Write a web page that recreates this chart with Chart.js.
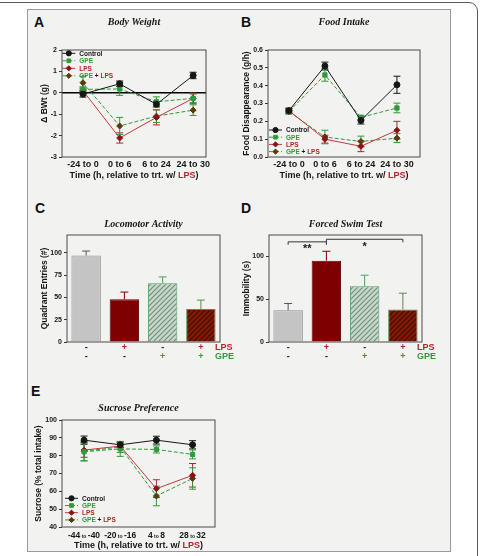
<!DOCTYPE html>
<html>
<head>
<meta charset="utf-8">
<script src="https://cdn.jsdelivr.net/npm/chart.js@4.4.1/dist/chart.umd.min.js"></script>
<style>
  body { margin: 0; width: 480px; height: 556px; overflow: hidden; position: relative; background: #fff; }
  #outer { position: absolute; left: -12px; top: 2px; width: 488px; height: 600px; border: 1.5px solid #5a5a5a; border-radius: 9px; }
  #panel { position: absolute; left: 27px; top: 9px; width: 422px; height: 541px; background: #f2f2f0; border: 1px solid #9a9a9a; }
  .letter { position: absolute; font: bold 14px "Liberation Sans", Arial, sans-serif; line-height: 1; color: #111; }
  canvas { position: absolute; }
</style>
</head>
<body>
<div id="outer"></div>
<div id="panel"></div>
<div class="letter" style="left:34px;top:15px">A</div>
<div class="letter" style="left:241px;top:15px">B</div>
<div class="letter" style="left:35px;top:201px">C</div>
<div class="letter" style="left:241px;top:201px">D</div>
<div class="letter" style="left:31px;top:384px">E</div>
<canvas id="bw" width="216" height="180" style="left:27px;top:10px"></canvas>
<canvas id="food" width="200" height="180" style="left:240px;top:10px"></canvas>
<canvas id="loco" width="227" height="175" style="left:30px;top:195px"></canvas>
<canvas id="swim" width="211" height="175" style="left:240px;top:195px"></canvas>
<canvas id="sucrose" width="223" height="170" style="left:27px;top:380px"></canvas>
<script>
// ---- data ----
const timeLabels = ['-24 to 0', '0 to 6', '6 to 24', '24 to 30'];
const sucroseLabels = ['-44 to -40', '-20 to -16', '4 to 8', '28 to 32'];
const seriesNames = ['Control', 'GPE', 'LPS', 'GPE + LPS'];

// A - change in body weight (g)
const bwTicks = [-3, -2, -1, 0, 1, 2];
const bwControl = [-0.06, 0.42, -0.54, 0.81];
const bwControlErr = [0.14, 0.13, 0.12, 0.15];
const bwGpe = [0.16, 0.18, -0.42, -0.26];
const bwGpeErr = [0.12, 0.3, 0.23, 0.2];
const bwLps = [0.1, -2.11, -1.15, -0.26];
const bwLpsErr = [0.12, 0.24, 0.35, 0.25];
const bwGpeLps = [0.47, -1.55, -1.09, -0.81];
const bwGpeLpsErr = [0.3, 0.4, 0.3, 0.25];

// B - food disappearance (g/h)
const foodTicks = [0, 0.1, 0.2, 0.3, 0.4, 0.5, 0.6];
const foodControl = [0.26, 0.51, 0.205, 0.405];
const foodControlErr = [0.012, 0.022, 0.02, 0.048];
const foodGpe = [0.255, 0.46, 0.222, 0.275];
const foodGpeErr = [0.015, 0.035, 0.012, 0.027];
const foodLps = [0.26, 0.1, 0.06, 0.15];
const foodLpsErr = [0.015, 0.022, 0.03, 0.05];
const foodGpeLps = [0.255, 0.112, 0.087, 0.106];
const foodGpeLpsErr = [0.012, 0.038, 0.03, 0.025];

// C / D - bar groups
const groupNames = ['Control', 'LPS', 'GPE', 'GPE + LPS'];
const lpsSigns = ['-', '+', '-', '+'];
const gpeSigns = ['-', '-', '+', '+'];
const locoTicks = [0, 25, 50, 75, 100];
const locoValues = [97, 48, 66, 37];
const locoErr = [5, 8, 7, 10];
const swimTicks = [0, 50, 100];
const swimValues = [37, 95, 65, 38];
const swimErr = [8, 11, 13, 19];
const swimBrackets = [[0, 1, '**', 117], [1, 3, '*', 120]];

// E - sucrose preference (% total intake)
const sucroseTicks = [40, 50, 60, 70, 80, 90, 100];
const sucControl = [88.7, 86.1, 88.7, 86.1];
const sucControlErr = [2.3, 1.5, 2.2, 2.3];
const sucGpe = [82.2, 83.8, 83.5, 80.7];
const sucGpeErr = [5.2, 4.2, 2, 2.5];
const sucLps = [83.1, 85.4, 61.5, 69];
const sucLpsErr = [4, 1.8, 5, 6.6];
const sucGpeLps = [82.6, 84.8, 57.4, 67.2];
const sucGpeLpsErr = [5.4, 3, 5.5, 6];

// ---- styles ----
const FONT = '"Liberation Sans", Arial, sans-serif';
const TITLE_FONT = 'italic bold 10px "Liberation Serif", "Times New Roman", serif';
const GREEN = '#2f9a3c';
const RED = '#b1262b';
const INK = '#161616';
const nameColor = {Control: INK, GPE: GREEN, LPS: RED};
const seriesStyle = [
  {line: INK, fill: INK, point: 'circle', dash: [], err: INK},
  {line: GREEN, fill: GREEN, point: 'rect', dash: [4, 2], err: GREEN},
  {line: '#c2383c', fill: '#8c1116', point: 'rectRot', dash: [], err: RED},
  {line: GREEN, fill: '#5b3a0b', point: 'rectRot', dash: [4, 2], err: GREEN}
];
const timeTitle = [['Time (h, relative to trt. w/ ', INK], ['LPS', RED], [')', INK]];

function hatch(bg, fg) {
  const c = document.createElement('canvas');
  c.width = c.height = 5;
  const g = c.getContext('2d');
  g.fillStyle = bg;
  g.fillRect(0, 0, 5, 5);
  g.strokeStyle = fg;
  g.lineWidth = 1.2;
  g.beginPath();
  g.moveTo(0, 5); g.lineTo(5, 0);
  g.moveTo(-1, 1); g.lineTo(1, -1);
  g.moveTo(4, 6); g.lineTo(6, 4);
  g.stroke();
  return g.createPattern(c, 'repeat');
}
const barFill = ['#c4c4c4', '#7e0000', hatch('#c9d6cc', '#6d9276'), hatch('#861800', '#3b1200')];
const barBorder = ['#8e8e8e', '#5f0000', '#4ea05a', '#5b8a4c'];
const barErr = ['#555', '#7e0000', '#4ea05a', '#5b8a4c'];

// draws a row of differently coloured text pieces
function drawParts(ctx, parts, x, y, font, align) {
  let w = 0;
  parts.forEach(p => { ctx.font = p[2] || font; w += ctx.measureText(p[0]).width; });
  let cx = align === 'left' ? x : x - w / 2;
  ctx.textAlign = 'left';
  ctx.textBaseline = 'alphabetic';
  parts.forEach(p => {
    ctx.font = p[2] || font;
    ctx.fillStyle = p[1];
    ctx.fillText(p[0], cx, y);
    cx += ctx.measureText(p[0]).width;
  });
}

const extras = {
  id: 'extras',
  beforeDatasetsDraw(chart, args, o) {
    const {ctx, chartArea: a} = chart;
    const ys = chart.scales.y;
    ctx.save();
    if (o.zeroLine) {
      const y0 = ys.getPixelForValue(0);
      ctx.strokeStyle = '#000';
      ctx.lineWidth = 1.5;
      ctx.beginPath(); ctx.moveTo(a.left, y0); ctx.lineTo(a.right, y0); ctx.stroke();
    }
    // error bars
    chart.data.datasets.forEach((ds, i) => {
      if (!ds.errors) return;
      chart.getDatasetMeta(i).data.forEach((el, j) => {
        const d = ds.data[j];
        const v = typeof d === 'object' ? d.y : d;
        const e = ds.errors[j];
        const top = ys.getPixelForValue(v + e);
        const bot = ys.getPixelForValue(o.upOnly ? v : v - e);
        ctx.strokeStyle = Array.isArray(ds.errColor) ? ds.errColor[j] : ds.errColor;
        ctx.lineWidth = 1;
        ctx.beginPath();
        ctx.moveTo(el.x, top); ctx.lineTo(el.x, bot);
        ctx.moveTo(el.x - o.cap, top); ctx.lineTo(el.x + o.cap, top);
        if (!o.upOnly) { ctx.moveTo(el.x - o.cap, bot); ctx.lineTo(el.x + o.cap, bot); }
        ctx.stroke();
      });
    });
    ctx.restore();
  },
  afterDraw(chart, args, o) {
    const {ctx, chartArea: a} = chart;
    const xs = chart.scales.x, ys = chart.scales.y;
    ctx.save();
    ctx.strokeStyle = '#4a4a4a';
    ctx.lineWidth = 1;
    ctx.strokeRect(a.left, a.top, a.width, a.height);

    // panel title, centred over the plot box
    ctx.font = TITLE_FONT;
    ctx.fillStyle = INK;
    ctx.textAlign = 'center';
    ctx.textBaseline = 'middle';
    ctx.fillText(o.title, (a.left + a.right) / 2, a.top - o.titleDy);

    if (o.legend) {
      chart.data.datasets.forEach((ds, i) => {
        const yy = a.top + o.legend.y + i * o.legend.gap;
        const x0 = a.left + o.legend.x;
        ctx.strokeStyle = ds.borderColor;
        ctx.lineWidth = 1;
        ctx.setLineDash(ds.borderDash);
        ctx.beginPath(); ctx.moveTo(x0, yy); ctx.lineTo(x0 + 13, yy); ctx.stroke();
        ctx.setLineDash([]);
        ctx.fillStyle = ds.pointBackgroundColor;
        ctx.strokeStyle = ds.pointBorderColor;
        Chart.helpers.drawPoint(ctx, {pointStyle: ds.pointStyle, radius: 2.6, rotation: 0, borderWidth: 1}, x0 + 6.5, yy);
        const parts = ds.label.split(/( \+ )/).map(p => [p, nameColor[p] || INK]);
        drawParts(ctx, parts, x0 + 17, yy + 2.3, 'bold 6.5px ' + FONT, 'left');
      });
    }
    if (o.xTitle) {
      drawParts(ctx, o.xTitle, (a.left + a.right) / 2, a.bottom + 20.5, 'bold 9px ' + FONT);
    }
    if (o.splitTicks) {
      o.splitTicks.forEach((lab, i) => {
        const [p, q] = lab.split(' to ');
        drawParts(ctx, [[p, INK], [' to ', INK, 'bold 5px ' + FONT], [q, INK]],
          xs.getPixelForValue(i), a.bottom + 10.5, 'bold 8.5px ' + FONT);
      });
    }
    if (o.signs) {
      o.signs.forEach(row => {
        const yy = a.bottom + row.dy;
        ctx.font = 'bold 9px ' + FONT;
        ctx.textBaseline = 'middle';
        ctx.textAlign = 'center';
        row.signs.forEach((s, i) => {
          ctx.fillStyle = s === '+' ? row.color : INK;
          ctx.fillText(s, xs.getPixelForValue(i), yy);
        });
        ctx.textAlign = 'left';
        ctx.fillStyle = row.color;
        ctx.fillText(row.label, a.right - 5, yy);
      });
    }
    if (o.brackets) {
      o.brackets.forEach(([i0, i1, t, v]) => {
        const x0 = xs.getPixelForValue(i0), x1 = xs.getPixelForValue(i1), yy = ys.getPixelForValue(v);
        ctx.strokeStyle = '#333';
        ctx.lineWidth = 1;
        ctx.beginPath();
        ctx.moveTo(x0, yy + 3); ctx.lineTo(x0, yy); ctx.lineTo(x1, yy); ctx.lineTo(x1, yy + 3);
        ctx.stroke();
        ctx.fillStyle = INK;
        ctx.font = 'bold 11px ' + FONT;
        ctx.textAlign = 'center';
        ctx.textBaseline = 'top';
        ctx.fillText(t, (x0 + x1) / 2, yy + 2);
      });
    }
    ctx.restore();
  }
};

function yAxis(o) {
  return {
    min: o.yMin, max: o.yMax,
    afterBuildTicks: s => { s.ticks = o.ticks.map(v => ({value: v})); },
    afterFit: s => { s.width = o.yWidth; },
    grid: {drawOnChartArea: false, tickLength: 3, color: '#333'},
    border: {display: false},
    ticks: {font: {family: FONT, size: 7, weight: 'bold'}, color: INK, padding: 2, callback: o.fmt || (v => v)},
    title: {display: true, text: o.yTitle, color: INK, font: {family: FONT, size: 8.5, weight: 'bold'}, padding: {top: o.yTitlePad, bottom: 0}}
  };
}

function lineChart(id, o) {
  const datasets = o.series.map((s, i) => {
    const st = seriesStyle[i];
    return {
      label: seriesNames[i],
      data: s[0].map((v, j) => ({x: j, y: v})),
      errors: s[1],
      errColor: st.err,
      borderColor: st.line, borderWidth: 1, borderDash: st.dash,
      pointStyle: st.point, pointRadius: 3,
      pointBackgroundColor: st.fill, pointBorderColor: st.fill, pointBorderWidth: 1,
      tension: 0
    };
  });
  return new Chart(document.getElementById(id), {
    type: 'line',
    data: {datasets},
    options: {
      responsive: false, animation: false,
      layout: {padding: {top: 40, right: o.padRight}},
      plugins: {
        legend: {display: false}, tooltip: {enabled: false}, title: {display: false},
        extras: {cap: 3.5, title: o.title, titleDy: o.titleDy, zeroLine: o.zeroLine, legend: o.legend, xTitle: timeTitle, splitTicks: o.splitTicks}
      },
      scales: {
        x: {
          type: 'linear', min: o.xMin, max: o.xMax,
          afterBuildTicks: s => { s.ticks = o.labels.map((_, i) => ({value: i})); },
          afterFit: s => { s.height = o.xHeight; },
          grid: {display: false, drawTicks: false},
          border: {display: false},
          ticks: {display: !o.splitTicks, font: {family: FONT, size: 9, weight: 'bold'}, color: INK, padding: 2, callback: v => o.labels[v]}
        },
        y: yAxis(o)
      }
    },
    plugins: [extras]
  });
}

function barChart(id, o) {
  return new Chart(document.getElementById(id), {
    type: 'bar',
    data: {
      labels: groupNames,
      datasets: [{
        data: o.values, errors: o.errors, errColor: barErr,
        backgroundColor: barFill, borderColor: barBorder, borderWidth: 1,
        barPercentage: 0.77, categoryPercentage: 1
      }]
    },
    options: {
      responsive: false, animation: false,
      layout: {padding: {top: 40, right: o.padRight}},
      plugins: {
        legend: {display: false}, tooltip: {enabled: false}, title: {display: false},
        extras: {
          cap: 4, upOnly: true, title: o.title, titleDy: o.titleDy, brackets: o.brackets,
          signs: [
            {signs: lpsSigns, label: 'LPS', color: RED, dy: 6},
            {signs: gpeSigns, label: 'GPE', color: GREEN, dy: 15}
          ]
        }
      },
      scales: {
        x: {
          grid: {display: false, drawTicks: false}, border: {display: false},
          ticks: {display: false},
          afterFit: s => { s.height = o.xHeight; }
        },
        y: yAxis(o)
      }
    },
    plugins: [extras]
  });
}

lineChart('bw', {
  title: 'Body Weight', titleDy: 28,
  labels: timeLabels, xMin: -0.57, xMax: 3.35, xHeight: 33, padRight: 37,
  yMin: -3, yMax: 2, ticks: bwTicks, yWidth: 35, yTitle: 'Δ BWt (g)', yTitlePad: 12.2,
  legend: {x: 0.3, y: 3.3, gap: 7.5}, zeroLine: true,
  series: [[bwControl, bwControlErr], [bwGpe, bwGpeErr], [bwLps, bwLpsErr], [bwGpeLps, bwGpeLpsErr]]
});

lineChart('food', {
  title: 'Food Intake', titleDy: 28,
  labels: timeLabels, xMin: -0.58, xMax: 3.64, xHeight: 33, padRight: 20,
  yMin: 0, yMax: 0.6, ticks: foodTicks, fmt: v => v.toFixed(1), yWidth: 28,
  yTitle: 'Food Disappearance (g/h)', yTitlePad: 1.6,
  legend: {x: 1, y: 80, gap: 7.2},
  series: [[foodControl, foodControlErr], [foodGpe, foodGpeErr], [foodLps, foodLpsErr], [foodGpeLps, foodGpeLpsErr]]
});

barChart('loco', {
  title: 'Locomotor Activity', titleDy: 11, xHeight: 28, padRight: 37,
  yMin: 0, yMax: 120, ticks: locoTicks, yWidth: 37, yTitle: 'Quadrant Entries (#)', yTitlePad: 9.9,
  values: locoValues, errors: locoErr
});

barChart('swim', {
  title: 'Forced Swim Test', titleDy: 11, xHeight: 28, padRight: 29,
  yMin: 0, yMax: 125, ticks: swimTicks, yWidth: 29, yTitle: 'Immobility (s)', yTitlePad: 1.6,
  values: swimValues, errors: swimErr, brackets: swimBrackets
});

lineChart('sucrose', {
  title: 'Sucrose Preference', titleDy: 12,
  labels: sucroseLabels, splitTicks: sucroseLabels, xMin: -0.61, xMax: 3.62, xHeight: 23, padRight: 35,
  yMin: 40, yMax: 100, ticks: sucroseTicks, yWidth: 35, yTitle: 'Sucrose (% total intake)', yTitlePad: 6.9,
  legend: {x: 3, y: 78.3, gap: 7.2},
  series: [[sucControl, sucControlErr], [sucGpe, sucGpeErr], [sucLps, sucLpsErr], [sucGpeLps, sucGpeLpsErr]]
});
</script>
</body>
</html>
